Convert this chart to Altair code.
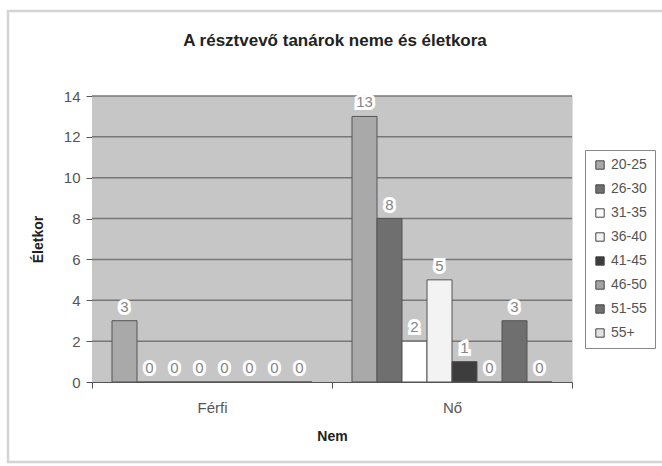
import altair as alt
import pandas as pd

genders = ["Férfi", "Nő"]
age_groups = ["20-25", "26-30", "31-35", "36-40", "41-45", "46-50", "51-55", "55+"]
ferfi_values = [3, 0, 0, 0, 0, 0, 0, 0]
no_values = [13, 8, 2, 5, 1, 0, 3, 0]
colors = ["#a9a9a9", "#6f6f6f", "#ffffff", "#f3f3f3", "#3d3d3d", "#a3a3a3", "#6f6f6f", "#e2e2e2"]
y_ticks = [0, 2, 4, 6, 8, 10, 12, 14]
title_text = "A résztvevő tanárok neme és életkora"

rows = []
for g, vals in zip(genders, [ferfi_values, no_values]):
    for a, v in zip(age_groups, vals):
        rows.append({"Nem": g, "Korcsoport": a, "Létszám": v})
df = pd.DataFrame(rows)

FONT = "Liberation Sans"

x_enc = alt.X("Nem:N", sort=genders,
              scale=alt.Scale(paddingInner=0, paddingOuter=0),
              axis=alt.Axis(title="Nem", titleFontSize=14, titleFontWeight="bold",
                            titleColor="#222", titlePadding=14,
                            labelFontSize=15, labelColor="#555", labelAngle=0,
                            labelPadding=12, tickBand="extent", tickSize=6,
                            tickColor="#555", domainColor="#555", grid=False))
xoff = alt.XOffset("Korcsoport:N", sort=age_groups,
                   scale=alt.Scale(paddingInner=0, paddingOuter=0.8))
y_scale = alt.Scale(domain=[0, 14], nice=False)
y_enc = alt.Y("Létszám:Q", scale=y_scale,
              axis=alt.Axis(title="Életkor", values=y_ticks,
                            titleFontSize=14, titleFontWeight="bold", titleColor="#222",
                            titlePadding=18, labelFontSize=15, labelColor="#555",
                            labelPadding=6, tickSize=6, tickColor="#555",
                            domainColor="#555", grid=False))

base = alt.Chart(df)

bars = base.mark_bar(stroke="#555", strokeWidth=1).encode(
    x=x_enc, xOffset=xoff, y=y_enc,
    color=alt.Color("Korcsoport:N", sort=age_groups,
                    scale=alt.Scale(domain=age_groups, range=colors),
                    legend=alt.Legend(title=None, orient="none", legendX=493, legendY=54,
                                      symbolType="square", symbolSize=70,
                                      symbolStrokeColor="#444", symbolStrokeWidth=1,
                                      labelFontSize=14, labelColor="#555",
                                      rowPadding=10, padding=8,
                                      strokeColor="#888", fillColor="#ffffff")),
)

halo = base.mark_text(baseline="bottom", dy=-6, fontSize=15, font=FONT,
                      stroke="white", strokeWidth=6, strokeJoin="miter", color="white").encode(
    x=x_enc, xOffset=xoff, y=y_enc, text="Létszám:Q")
labels = base.mark_text(baseline="bottom", dy=-6, fontSize=15, font=FONT,
                        color="#858585").encode(
    x=x_enc, xOffset=xoff, y=y_enc, text="Létszám:Q")

one = pd.DataFrame({"t": [title_text]})
plotbg = alt.Chart(one).mark_rect(fill="#c6c6c6").encode(
    x=alt.value(0), x2=alt.value(480), y=alt.value(0), y2=alt.value(286))
grid = alt.Chart(pd.DataFrame({"v": y_ticks[1:]})).mark_rule(
    color="#777", strokeWidth=1.5).encode(
    y=alt.Y("v:Q", scale=y_scale), x=alt.value(0), x2=alt.value(480))
frame = alt.Chart(one).mark_rect(
    fill=None, stroke="#d4d4d4", strokeWidth=2.5).encode(
    x=alt.value(-84), x2=alt.value(590), y=alt.value(-85), y2=alt.value(366))
title = alt.Chart(one).mark_text(fontSize=17, fontWeight="bold", font=FONT,
                                 color="#222", baseline="middle").encode(
    x=alt.value(243), y=alt.value(-55), text="t:N")

chart = alt.layer(frame, plotbg, grid, bars, halo, labels, title).resolve_scale(
    y="shared").properties(
    width=480, height=286,
    autosize=alt.AutoSizeParams(type="none"),
    padding={"left": 92, "top": 96, "right": 90, "bottom": 84},
).configure_view(stroke=None).configure(
    font=FONT
).configure_axis(labelFont=FONT, titleFont=FONT).configure_legend(labelFont=FONT)

chart.save("out.html", embed_options={"renderer": "svg", "actions": False})
